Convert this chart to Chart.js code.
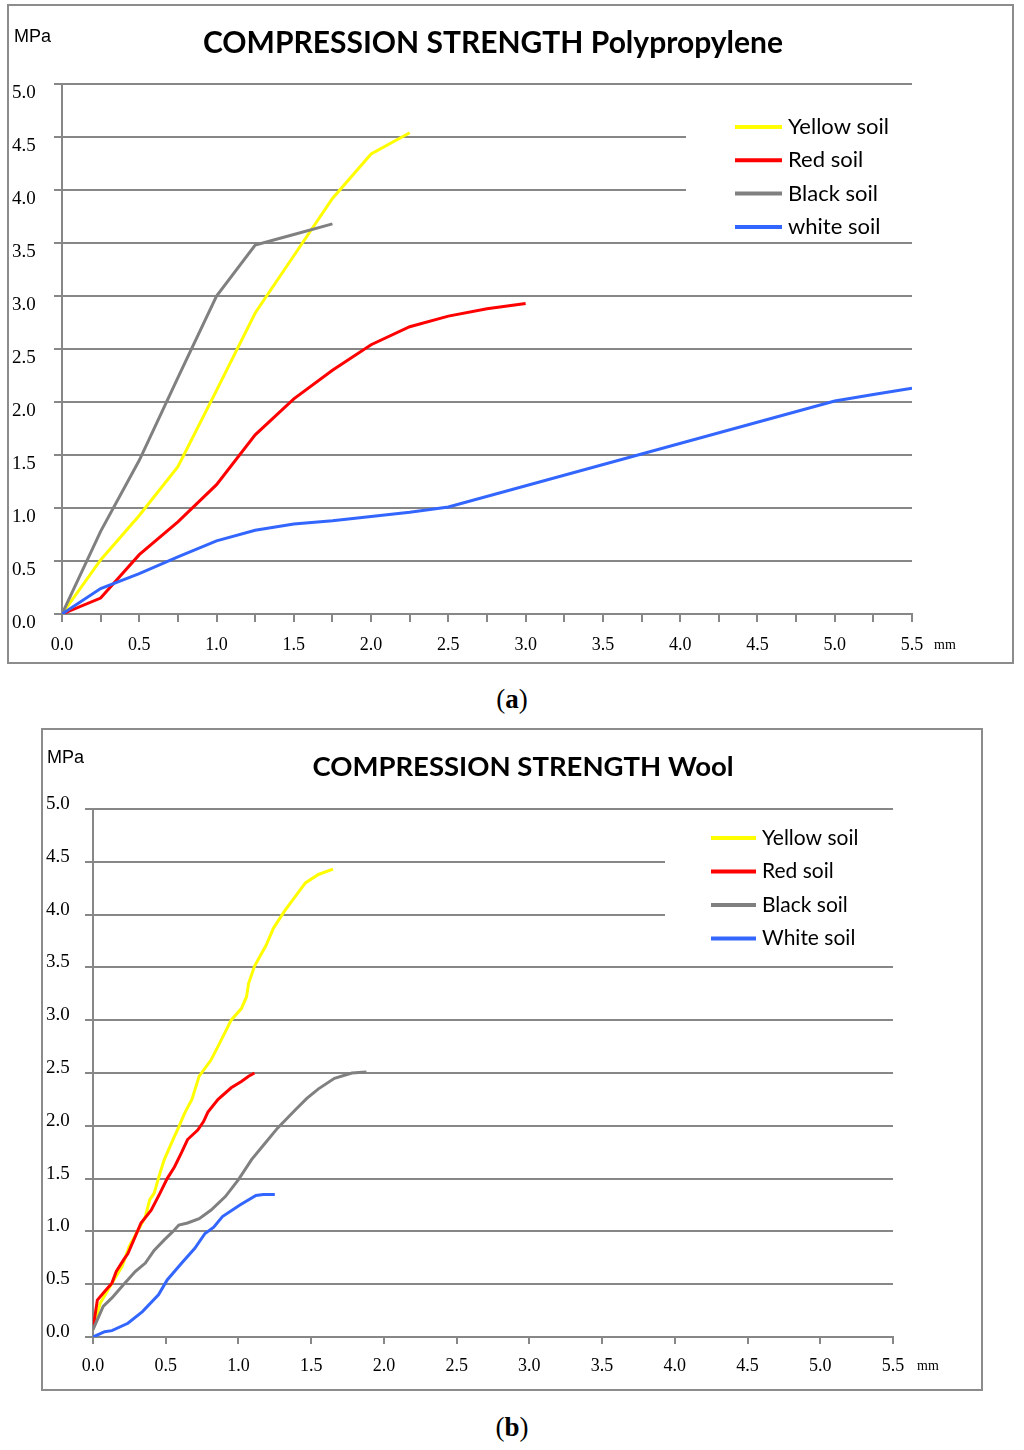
<!DOCTYPE html>
<html>
<head>
  <meta charset="utf-8">
  <title>Compression strength</title>
  <script src="https://cdnjs.cloudflare.com/ajax/libs/Chart.js/4.4.1/chart.umd.min.js"></script>
  <style>
    body { margin: 0; background: #fff; width: 1024px; height: 1450px; position: relative; }
    .box { position: absolute; border: 2px solid #8c8c8c; background: #fff; }
    .box canvas { display: block; }
    .cap { position: absolute; left: 0; width: 1024px; text-align: center;
           font-family: "Liberation Serif"; font-size: 27px; color: #000; }
  </style>
</head>
<body>

  <div class="box" style="left:7px; top:4px; width:1003px; height:656px">
    <canvas id="chartA" width="1003" height="656"></canvas>
  </div>
  <div class="cap" style="top:684px">(<b>a</b>)</div>

  <div class="box" style="left:41px; top:728px; width:938px; height:659px">
    <canvas id="chartB" width="938" height="659"></canvas>
  </div>
  <div class="cap" style="top:1412px">(<b>b</b>)</div>

  <script>
    // deformation in mm (x) and stress in MPa (y)

    // (a) polypropylene
    var ppYellowX = [0, 0.25, 0.5, 0.75, 1.0, 1.25, 1.5, 1.75, 2.0, 2.25];
    var ppYellowY = [0, 0.51, 0.93, 1.39, 2.11, 2.84, 3.38, 3.92, 4.34, 4.54];
    var ppRedX = [0, 0.25, 0.5, 0.75, 1.0, 1.25, 1.5, 1.75, 2.0, 2.25, 2.5, 2.75, 3.0];
    var ppRedY = [0, 0.15, 0.56, 0.87, 1.22, 1.69, 2.03, 2.30, 2.54, 2.71, 2.81, 2.88, 2.93];
    var ppBlackX = [0, 0.25, 0.5, 0.75, 1.0, 1.25, 1.5, 1.75];
    var ppBlackY = [0, 0.78, 1.45, 2.23, 3.0, 3.48, 3.58, 3.68];
    var ppWhiteX = [0, 0.25, 0.5, 0.75, 1.0, 1.25, 1.5, 1.75, 2.0, 2.25, 2.5, 5.0, 5.25, 5.5];
    var ppWhiteY = [0, 0.24, 0.38, 0.54, 0.69, 0.79, 0.85, 0.88, 0.92, 0.96, 1.01, 2.01, 2.07, 2.13];

    // (b) wool
    var woYellowX = [0, 0.05, 0.13, 0.2, 0.25, 0.31, 0.36, 0.39, 0.42, 0.46, 0.49, 0.55, 0.59, 0.63, 0.68,
                     0.73, 0.81, 0.87, 0.95, 1.02, 1.055, 1.07, 1.11, 1.19, 1.24, 1.32, 1.39, 1.46, 1.55, 1.65];
    var woYellowY = [0.08, 0.32, 0.51, 0.67, 0.86, 1.01, 1.14, 1.30, 1.36, 1.55, 1.68, 1.87, 1.99, 2.12, 2.25,
                     2.47, 2.62, 2.78, 3.0, 3.11, 3.22, 3.35, 3.51, 3.71, 3.87, 4.04, 4.17, 4.30, 4.38, 4.43];
    var woRedX = [0, 0.03, 0.08, 0.13, 0.16, 0.21, 0.24, 0.29, 0.33, 0.40, 0.46, 0.51, 0.56, 0.61, 0.65,
                  0.72, 0.76, 0.79, 0.86, 0.95, 1.02, 1.07, 1.11];
    var woRedY = [0.08, 0.35, 0.43, 0.51, 0.62, 0.73, 0.79, 0.95, 1.08, 1.20, 1.36, 1.50, 1.61, 1.75, 1.87,
                  1.96, 2.04, 2.13, 2.25, 2.36, 2.42, 2.47, 2.50];
    var woBlackX = [0, 0.07, 0.13, 0.2, 0.29, 0.36, 0.42, 0.49, 0.55, 0.59, 0.65, 0.73, 0.81, 0.91, 1.0,
                    1.09, 1.18, 1.27, 1.39, 1.47, 1.55, 1.66, 1.78, 1.88];
    var woBlackY = [0.07, 0.29, 0.37, 0.48, 0.62, 0.70, 0.82, 0.92, 1.00, 1.06, 1.08, 1.12, 1.20, 1.33, 1.49,
                    1.68, 1.83, 1.98, 2.15, 2.26, 2.35, 2.45, 2.50, 2.51];
    var woWhiteX = [0, 0.08, 0.13, 0.24, 0.34, 0.45, 0.51, 0.61, 0.70, 0.77, 0.83, 0.89, 1.01, 1.12, 1.17, 1.25];
    var woWhiteY = [0, 0.05, 0.06, 0.13, 0.24, 0.40, 0.54, 0.70, 0.84, 0.98, 1.04, 1.14, 1.25, 1.34, 1.35, 1.35];

    var labelsA = ['Yellow soil', 'Red soil', 'Black soil', 'white soil'];
    var labelsB = ['Yellow soil', 'Red soil', 'Black soil', 'White soil'];
    var soilColors = ['#ffff00', '#ff0000', '#808080', '#3366ff'];
    var gridColor = '#878787';

    function pts(xs, ys) {
      return xs.map(function (x, i) { return { x: x, y: ys[i] }; });
    }

    function makeSets(labels, series) {
      return series.map(function (s, i) {
        return {
          label: labels[i],
          data: pts(s[0], s[1]),
          borderColor: soilColors[i],
          borderWidth: 3,
          pointRadius: 0,
          tension: 0,
          fill: false,
          order: 3 - i   // later series on top, like the original
        };
      });
    }

    // title, unit labels, legend (with its white backing box)
    var extras = {
      id: 'extras',
      beforeDatasetsDraw: function (chart, args, o) {
        var ctx = chart.ctx;
        ctx.save();
        ctx.fillStyle = '#fff';
        ctx.fillRect(o.box[0], o.box[1], o.box[2], o.box[3]);
        ctx.restore();
      },
      afterDraw: function (chart, args, o) {
        var ctx = chart.ctx;
        var xs = chart.scales.x;
        ctx.save();
        ctx.fillStyle = '#000';
        ctx.textBaseline = 'middle';

        ctx.textAlign = 'center';
        ctx.font = o.titleFont;
        ctx.fillText(o.title, o.titlePos[0], o.titlePos[1]);

        ctx.textAlign = 'left';
        ctx.font = '18px "Liberation Sans"';
        ctx.fillText('MPa', o.mpaPos[0], o.mpaPos[1]);

        ctx.font = '14px "Liberation Serif"';
        ctx.fillText('mm', xs.getPixelForValue(xs.max) + o.mmGap, o.mmY);

        ctx.font = o.legendFont;
        chart.data.datasets.forEach(function (ds, i) {
          var y = o.legend.y + i * o.legend.step;
          ctx.strokeStyle = ds.borderColor;
          ctx.lineWidth = 4;
          ctx.beginPath();
          ctx.moveTo(o.legend.x, y);
          ctx.lineTo(o.legend.x + o.legend.len, y);
          ctx.stroke();
          ctx.fillText(ds.label, o.legend.x + o.legend.len + 6, y);
        });
        ctx.restore();
      }
    };

    function halfStep(v) {
      return Math.abs(v * 2 - Math.round(v * 2)) < 1e-6 ? v.toFixed(1) : '';
    }

    function makeChart(id, sets, opt) {
      return new Chart(document.getElementById(id), {
        type: 'line',
        data: { datasets: sets },
        plugins: [extras],
        options: {
          responsive: false,
          animation: false,
          devicePixelRatio: 1,
          layout: { padding: opt.padding },
          plugins: {
            legend: { display: false },
            tooltip: { enabled: false },
            extras: opt.extras
          },
          scales: {
            x: {
              type: 'linear', min: 0, max: 5.5,
              border: { color: gridColor, width: 2 },
              grid: { drawOnChartArea: false, drawTicks: true, tickLength: opt.xTick, color: gridColor, lineWidth: 2 },
              ticks: {
                stepSize: opt.xStep, autoSkip: false, maxRotation: 0, padding: opt.xPad,
                color: '#000', font: { family: 'Liberation Serif', size: 18 },
                callback: halfStep
              },
              afterFit: function (s) { s.height = opt.xHeight; }
            },
            y: {
              min: 0, max: 5,
              border: { color: gridColor, width: 2 },
              grid: { color: gridColor, lineWidth: 2, tickLength: 8 },
              ticks: {
                stepSize: 0.5, crossAlign: 'far', labelOffset: opt.yOffset,
                color: '#000', font: { family: 'Liberation Serif', size: 19 },
                callback: function (v) { return v.toFixed(1); }
              },
              afterFit: function (s) { s.width = opt.yWidth; }
            }
          }
        }
      });
    }

    makeChart('chartA', makeSets(labelsA, [
      [ppYellowX, ppYellowY], [ppRedX, ppRedY], [ppBlackX, ppBlackY], [ppWhiteX, ppWhiteY]
    ]), {
      padding: { left: 3, top: 78, right: 100, bottom: 0 },
      xStep: 0.25, xTick: 8, xPad: 12, xHeight: 48, yWidth: 50, yOffset: 9,
      extras: {
        title: 'COMPRESSION STRENGTH Polypropylene', titlePos: [484, 37],
        titleFont: 'bold 30px Lato',
        mpaPos: [5, 31], mmGap: 22, mmY: 639,
        box: [677, 99, 230, 127],
        legend: { x: 726, y: 121, step: 33.3, len: 47 },
        legendFont: '22px Lato'
      }
    });

    makeChart('chartB', makeSets(labelsB, [
      [woYellowX, woYellowY], [woRedX, woRedY], [woBlackX, woBlackY], [woWhiteX, woWhiteY]
    ]), {
      padding: { left: 3, top: 79, right: 88, bottom: 0 },
      xStep: 0.5, xTick: 7, xPad: 11, xHeight: 52, yWidth: 47, yOffset: -5,
      extras: {
        title: 'COMPRESSION STRENGTH Wool', titlePos: [480, 37],
        titleFont: 'bold 27.5px Lato',
        mpaPos: [4, 28], mmGap: 24, mmY: 636,
        box: [622, 97, 232, 125],
        legend: { x: 668, y: 108, step: 33.5, len: 45 },
        legendFont: '21px Lato'
      }
    });
  </script>

</body>
</html>
